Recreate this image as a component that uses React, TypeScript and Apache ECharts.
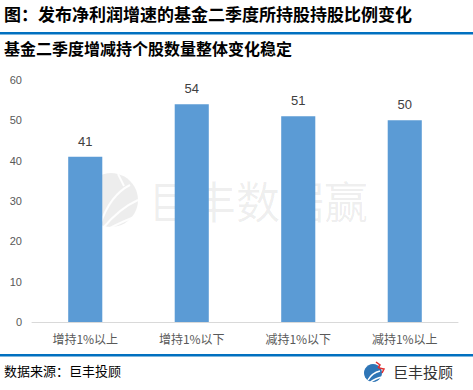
import React, { useEffect, useRef } from "react";
import * as echarts from "echarts";

const categories = ["增持1%以上", "增持1%以下", "减持1%以下", "减持1%以上"];
const values = [41, 54, 51, 50];
const yTicks = { min: 0, max: 60, interval: 10 };
const titleText = "图：发布净利润增速的基金二季度所持股持股比例变化";
const subtitleText = "基金二季度增减持个股数量整体变化稳定";
const sourceText = "数据来源：巨丰投顾";
const brandText = "巨丰投顾";
const watermarkText = "巨丰数据赢";

export default function App() {
  const ref = useRef<HTMLDivElement>(null);
  useEffect(() => {
    document.body.style.margin = "0";
    const chart = echarts.init(ref.current!, null, { renderer: "svg" });
    const font = "'Noto Sans CJK SC', 'Noto Sans', sans-serif";
    chart.setOption({
      animation: false,
      backgroundColor: "#ffffff",
      textStyle: { fontFamily: font },
      grid: { left: 32, right: 15, top: 80, bottom: 68 },
      xAxis: {
        type: "category",
        data: categories,
        axisLine: { lineStyle: { color: "#d9d9d9", width: 1 } },
        axisTick: { show: false },
        axisLabel: { color: "#595959", fontSize: 12, margin: 10, fontFamily: font },
      },
      yAxis: {
        type: "value",
        min: yTicks.min,
        max: yTicks.max,
        interval: yTicks.interval,
        axisLine: { show: false },
        axisTick: { show: false },
        splitLine: { show: false },
        axisLabel: { color: "#595959", fontSize: 11, margin: 10, fontFamily: "Liberation Sans, Arial, sans-serif" },
      },
      series: [
        {
          type: "bar",
          data: values,
          barWidth: "32%",
          itemStyle: { color: "#5b9bd5" },
          label: {
            show: true,
            position: "top",
            distance: 9,
            color: "#404040",
            fontSize: 13,
            fontFamily: "Liberation Sans, Arial, sans-serif",
          },
        },
      ],
      graphic: [
        {
          type: "text",
          left: 4,
          top: 5,
          style: { text: titleText, font: `bold 17px ${font}`, fill: "#000000" },
        },
        {
          type: "rect",
          shape: { x: 0, y: 32, width: 473, height: 2.5 },
          style: { fill: "#0070c0" },
        },
        {
          type: "text",
          left: 4,
          top: 40,
          style: { text: subtitleText, font: `bold 16px ${font}`, fill: "#000000" },
        },
        {
          type: "rect",
          shape: { x: 0, y: 354, width: 473, height: 2.5 },
          style: { fill: "#0070c0" },
        },
        {
          type: "text",
          left: 4,
          top: 364,
          style: { text: sourceText, font: `13px ${font}`, fill: "#000000" },
        },
        // footer logo
        {
          type: "circle",
          shape: { cx: 373, cy: 373, r: 9 },
          style: { fill: "#2e75b6" },
        },
        {
          type: "bezierCurve",
          shape: { x1: 368, y1: 380, x2: 380, y2: 371, cpx1: 372, cpy1: 373 },
          style: { stroke: "#ffffff", lineWidth: 1.5, fill: "none" },
        },
        {
          type: "bezierCurve",
          shape: { x1: 369, y1: 383, x2: 382, y2: 377, cpx1: 376, cpy1: 378 },
          style: { stroke: "#ffffff", lineWidth: 1.5, fill: "none" },
        },
        {
          type: "polyline",
          shape: { points: [[376, 362], [380, 365], [378, 368]] },
          style: { stroke: "#e03030", lineWidth: 1.5, fill: "none" },
        },
        {
          type: "polyline",
          shape: { points: [[379, 368], [384, 369], [382, 373]] },
          style: { stroke: "#e03030", lineWidth: 1.5, fill: "none" },
        },
        {
          type: "text",
          left: 393,
          top: 364,
          style: { text: brandText, font: `15px ${font}`, fill: "#333333" },
        },
        // watermark
        {
          type: "group",
          z: 100,
          children: [
            {
              type: "circle",
              shape: { cx: 111, cy: 200, r: 27 },
              style: { fill: "rgba(0,0,0,0.07)" },
            },
            {
              type: "bezierCurve",
              shape: { x1: 100, y1: 225, x2: 130, y2: 185, cpx1: 110, cpy1: 195 },
              style: { stroke: "rgba(255,255,255,0.9)", lineWidth: 2, fill: "none" },
            },
            {
              type: "bezierCurve",
              shape: { x1: 103, y1: 228, x2: 138, y2: 200, cpx1: 120, cpy1: 208 },
              style: { stroke: "rgba(255,255,255,0.9)", lineWidth: 2, fill: "none" },
            },
            {
              type: "bezierCurve",
              shape: { x1: 106, y1: 230, x2: 140, y2: 215, cpx1: 125, cpy1: 220 },
              style: { stroke: "rgba(255,255,255,0.9)", lineWidth: 2, fill: "none" },
            },
            {
              type: "line",
              shape: { x1: 118, y1: 174, x2: 124, y2: 186 },
              style: { stroke: "rgba(255,255,255,0.9)", lineWidth: 2 },
            },
            {
              type: "text",
              left: 148,
              top: 178,
              style: { text: watermarkText, font: `44px ${font}`, fill: "rgba(0,0,0,0.07)" },
            },
          ],
        },
      ],
    });
    return () => chart.dispose();
  }, []);
  return <div ref={ref} style={{ width: 473, height: 390 }} />;
}
